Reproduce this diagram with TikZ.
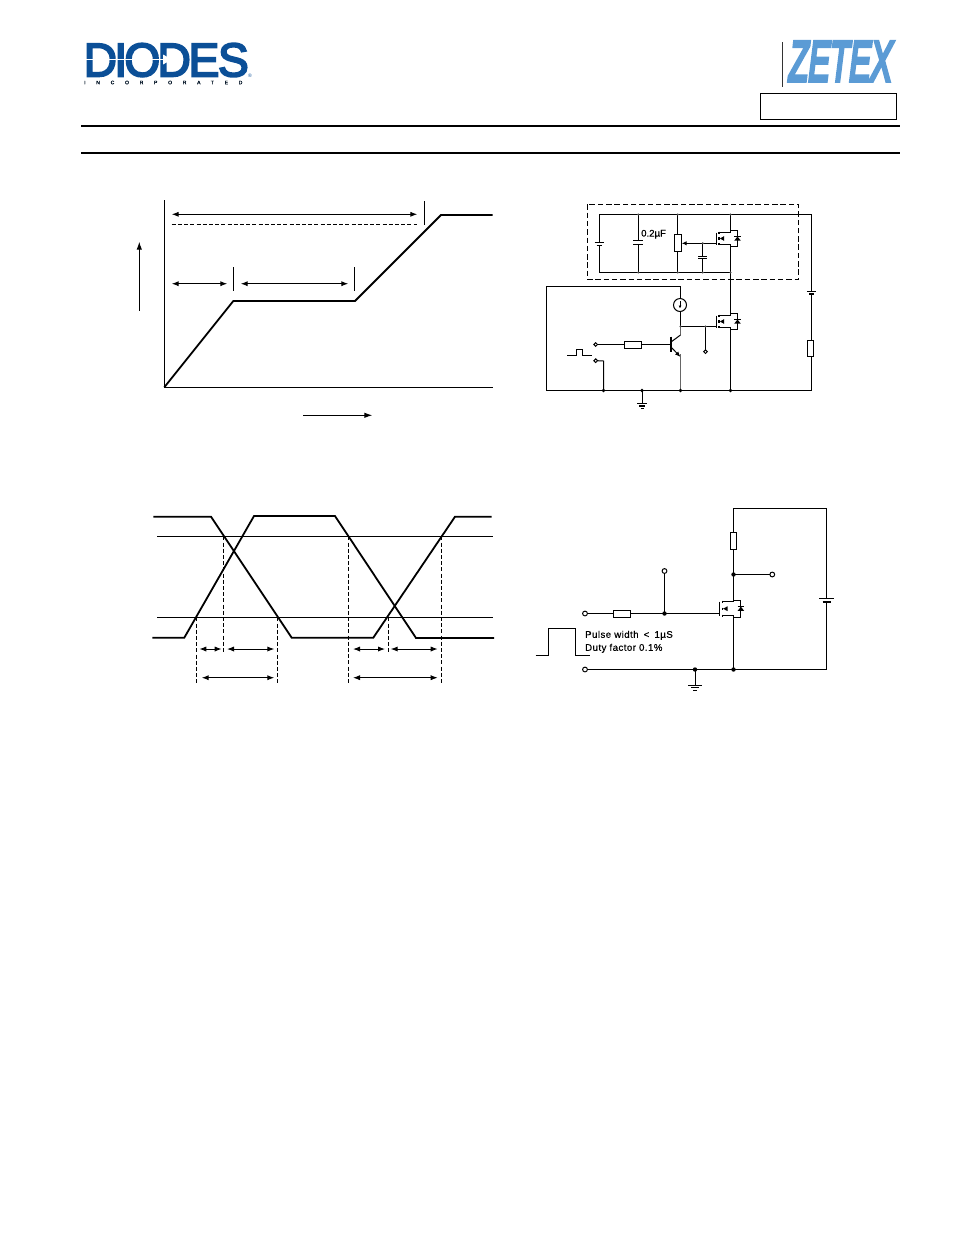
\documentclass[tikz,border=0pt]{standalone}
\usepackage{fontspec}
\setmainfont{Liberation Sans}
\newfontfamily\logofont[FakeBold=4]{Liberation Sans}
\newfontfamily\zetexfont[FakeBold=7,FakeSlant=0.22]{Liberation Sans}
\newfontfamily\incfont[FakeBold=1.5,LetterSpace=215]{Liberation Sans}
\newfontfamily\labelfont[FakeBold=0.5,LetterSpace=5]{Liberation Sans}
\newfontfamily\capfont[FakeBold=0.5]{Liberation Sans}
\usepackage{graphicx}
\usetikzlibrary{arrows.meta}
\definecolor{diodesblue}{HTML}{0B4F97}
\definecolor{zetexblue}{HTML}{5B9BD5}
\tikzset{
  wire/.style={draw=black,line width=1pt},
  thin wire/.style={draw=black,line width=1pt},
  trace/.style={draw=black,line width=1.8pt,line join=miter},
  rule line/.style={draw=black,line width=1.6pt},
  dim/.style={draw=black,line width=1pt,{Latex[length=7pt,width=5.2pt]}-{Latex[length=7pt,width=5.2pt]}},
  oneway/.style={draw=black,line width=1pt,-{Latex[length=8pt,width=5.5pt]}},
  guide/.style={draw=black,line width=0.9pt,dash pattern=on 4pt off 2.2pt},
  frame dash/.style={draw=black,line width=1.1pt,dash pattern=on 5.5pt off 2.8pt},
  res/.style={draw=black,line width=1pt,fill=white},
  term/.style={draw=black,line width=1pt,fill=white},
  junction/.style={fill=black},
}
\newcommand{\mosfet}[6]{%
  \begin{scope}[shift={(#1,#2)}]
    \draw[wire] (-#5,-#3) -- (-#5,#3+0.5);
    \draw[wire,line width=1.6pt] (-#5+3,-#3-1) -- (-#5+3,-#3+1);
    \draw[wire,line width=1.6pt] (-#5+3,#3-1) -- (-#5+3,#3+1);
    \draw[wire] (-#5+3,-#3) -- (0,-#3);
    \draw[wire] (-#5+3,#3) -- (0,#3);
    \draw[wire,line width=1.6pt] (-#5+3,-1.2) -- (-#5+3,1.2);
    \fill (-#5+3.6,0) -- (-#5+8,-2.4) -- (-#5+8,2.4) -- cycle;
    \draw[wire] (0,-#6) -- (#4,-#6) -- (#4,#6) -- (0,#6);
    \fill (#4-3.3,2.2) -- (#4+3.3,2.2) -- (#4,-2) -- cycle;
    \draw[wire,line width=1.4pt] (#4-3.3,-2) -- (#4+3.3,-2);
  \end{scope}}
\begin{document}
\begin{tikzpicture}[x=1pt,y=-1pt]
\useasboundingbox (0,0) rectangle (954,1235);

% --- header ---
\node[inner sep=0,anchor=south west,text=diodesblue] (diodes) at (83.5,77)
  {\resizebox{165pt}{33pt}{\logofont D\kern-0.06em I\kern-0.06em O\kern-0.06em D\kern-0.05em E\kern-0.03em S}};
\fill[white] (84,58.6) rectangle (165,60.2);
\fill[white] (163,54.5) -- (172,59.4) -- (163,64.5) -- cycle;
\node[inner sep=0,anchor=west,text=black!75!diodesblue,font=\incfont\fontsize{5}{5}\selectfont] (inc) at (84,82.5)
  {INCORPORATED};
\node[inner sep=0,text=diodesblue,font=\fontsize{5}{5}\selectfont] (reg) at (250,75.5) {®};
\draw[black!80,line width=1pt] (782,42) -- (782,87);
\node[inner sep=0,anchor=south west,text=zetexblue] (zetex) at (787,81)
  {\resizebox{103pt}{39pt}{\zetexfont ZETEX}};
\draw[line width=1pt] (760.5,93.8) rectangle (896.5,119.3);
\draw[rule line] (81,126) -- (900,126);
\draw[rule line] (81,153) -- (900,153);

% --- gate charge graph ---
\draw[wire] (164.3,200) -- (164.3,387.3) -- (492.7,387.3);
\draw[trace] (164.3,387.3) -- (233.3,301) -- (355,301) -- (441,215) -- (492.7,215);
\draw[dim] (171.7,214.3) -- (417.3,214.3);
\draw[guide] (171.7,224.3) -- (417.3,224.3);
\draw[thin wire] (424.3,201) -- (424.3,224.5);
\draw[dim] (171.7,283.7) -- (227.3,283.7);
\draw[thin wire] (233.3,267) -- (233.3,290.7);
\draw[dim] (240.7,283.7) -- (348.3,283.7);
\draw[thin wire] (354.3,267) -- (354.3,290.7);
\draw[oneway] (139.3,310.7) -- (139.3,241.7);
\draw[oneway] (303.3,415.3) -- (372.3,415.3);

% --- gate charge test circuit ---
\draw[frame dash] (587.3,204.3) rectangle (798.3,279.3);
\draw[wire] (599.3,214.5) -- (811.5,214.5);
\draw[wire] (599.3,272.5) -- (730.5,272.5);
% battery
\draw[wire] (599.3,214.5) -- (599.3,242);
\draw[wire] (594.5,242) -- (604,242);
\draw[wire,line width=1.5pt] (596.5,245.5) -- (602,245.5);
\draw[wire] (599.3,245.5) -- (599.3,272.5);
% capacitor
\draw[wire] (638.3,214.5) -- (638.3,240.7);
\draw[wire,line width=1.5pt] (633.3,240.7) -- (643.3,240.7);
\draw[wire,line width=1.5pt] (633.3,244.3) -- (643.3,244.3);
\draw[wire] (638.3,244.3) -- (638.3,272.5);
\node[inner sep=0,anchor=west,font=\capfont\fontsize{9.6}{10}\selectfont] (cap) at (641,234.2) {0.2\textmu F};
% potentiometer
\draw[wire] (677.7,214.5) -- (677.7,272.5);
\draw[res] (674,234.3) rectangle (681.4,251.7);
\draw[thin wire,-{Latex[length=5pt,width=4.4pt]}] (715.5,243.3) -- (681.7,243.3);
% small cap on gate
\draw[wire] (702.7,243.3) -- (702.7,256);
\draw[wire] (698,256) -- (707.4,256);
\draw[wire] (698,258.3) -- (707.4,258.3);
\draw[wire] (702.7,258.3) -- (702.7,272.5);
% upper mosfet
\draw[wire] (730.5,214.5) -- (730.5,232.7);
\draw[wire] (730.5,244.3) -- (730.5,315.7);
\draw[wire] (730.5,327.3) -- (730.5,390.5);
\mosfet{730.5}{238.5}{5.8}{7}{14.3}{8}
% left block
\draw[wire] (680.5,286.5) -- (546.5,286.5) -- (546.5,390.5) -- (811.5,390.5);
\draw[wire] (680.5,286.5) -- (680.5,298.5);
\draw[wire] (680.5,311.5) -- (680.5,326);
\draw[wire] (680,305) circle (6.5);
\draw[thin wire,-{Latex[length=3pt,width=3pt]}] (680,301) -- (680,308.5);
% lower mosfet
\mosfet{730.5}{321.5}{5.8}{7}{14.3}{8}
\draw[wire] (680.5,326.5) -- (716.2,326.5);
\draw[wire] (705.5,326.5) -- (705.5,350);
\draw[term] (705.5,351.7) circle (1.8);
% transistor
\draw[wire,line width=2pt] (671,336.7) -- (671,351.7);
\draw[wire,black!60] (680.5,326) -- (680.5,335);
\draw[wire] (680.5,335) -- (671,342);
\draw[wire,-{Latex[length=5.5pt,width=4.5pt]}] (671,347) -- (680.5,357);
\draw[wire,black!60,line width=1.3pt] (680.5,354) -- (680.5,390.5);
% base network
\draw[wire] (597,344.5) -- (671,344.5);
\draw[res] (624.3,341.3) rectangle (641.7,348.3);
\draw[term] (595.7,344.5) circle (1.8);
\draw[term] (595.7,360.7) circle (1.8);
\draw[wire] (597.5,360.7) -- (603.5,361) -- (603.5,390.5);
\draw[thin wire] (567.3,355.7) -- (576,355.7) -- (576,349.3) -- (582.3,349.3) -- (582.3,355.7) -- (591.7,355.7);
% right leg
\draw[wire] (811.5,214.5) -- (811.5,291.7);
\draw[wire] (806.8,291.7) -- (816.2,291.7);
\draw[wire,line width=1.5pt] (809,294.2) -- (814,294.2);
\draw[wire] (811.5,294.2) -- (811.5,390.5);
\draw[res] (807.2,340.3) rectangle (813.8,356.7);
% ground
\draw[wire] (642,390.5) -- (642,403.5);
\draw[wire,line width=1.4pt] (637,403.5) -- (647,403.5);
\draw[wire,line width=1.3pt] (639,405.9) -- (645,405.9);
\draw[wire,line width=1.3pt] (640.5,408.7) -- (643.5,408.7);
\foreach \jx in {603.5,642,680.5,730.5}{\fill[junction] (\jx,390.5) circle (1.9);}
\foreach \jx/\jy in {638.3/214.5,677.7/214.5,730.5/214.5,638.3/272.5,677.7/272.5,702.7/272.5,730.5/272.5,702.7/243.3,705.5/326.5,680.5/326.5}{\fill[black!70] (\jx,\jy) circle (1.1);}

% --- switching waveforms ---
\draw[thin wire] (157,536.3) -- (493,536.3);
\draw[thin wire] (157,617.3) -- (493,617.3);
\draw[trace] (153.3,516.7) -- (211,516.7) -- (291.7,637.7) -- (373.3,637.7) -- (455,516.7) -- (491.7,516.7);
\draw[trace] (152.3,637.7) -- (184.3,637.7) -- (254,516) -- (335,516) -- (416,638) -- (494,638);
\draw[guide] (196.3,617.3) -- (196.3,683.3);
\draw[guide] (223.3,536.3) -- (223.3,652.7);
\draw[guide] (277.3,617.3) -- (277.3,683.3);
\draw[guide] (348.3,536.3) -- (348.3,683.3);
\draw[guide] (388.3,617.3) -- (388.3,652.7);
\draw[guide] (441.3,536.3) -- (441.3,683.3);
\draw[dim] (199.3,649) -- (221.7,649);
\draw[dim] (227,649) -- (274.3,649);
\draw[dim] (353,649) -- (385,649);
\draw[dim] (390.7,649) -- (437.7,649);
\draw[dim] (201.7,677.7) -- (274.3,677.7);
\draw[dim] (353,677.7) -- (437.7,677.7);

% --- switching test circuit ---
\draw[wire] (587,669.5) -- (826.5,669.5) -- (826.5,602);
\draw[wire] (826.5,598.7) -- (826.5,508.5) -- (733.5,508.5) -- (733.5,601.7);
\draw[wire] (733.5,615.7) -- (733.5,669.5);
\draw[res] (730.1,532.3) rectangle (736.5,549.7);
\draw[wire] (733.5,574.5) -- (770,574.5);
\draw[term] (772.3,574.5) circle (2.4);
\fill[junction] (733.5,574.5) circle (2.2);
\draw[wire,line width=1.2pt] (819,598.7) -- (834,598.7);
\draw[wire,line width=1.8pt] (822.5,602) -- (830.5,602);
\mosfet{733.5}{608.7}{7}{7.4}{14}{8.7}
\draw[wire] (587.5,613.5) -- (719.5,613.5);
\draw[res] (613.3,610.3) rectangle (630.7,617.3);
\draw[term] (585,613.5) circle (2.4);
\draw[wire] (664.5,613.5) -- (664.5,573.4);
\draw[term] (664.5,571) circle (2.4);
\fill[junction] (664.5,613.5) circle (2.2);
\draw[term] (585,669.5) circle (2.4);
\fill[junction] (695,669.5) circle (2.2);
\fill[junction] (733.5,669.5) circle (2.2);
\draw[wire] (695,669.5) -- (695,685);
\draw[wire] (688,685) -- (702,685);
\draw[wire] (691,687.6) -- (699,687.6);
\draw[wire] (693,690.3) -- (697,690.3);
\draw[wire] (535.7,655.3) -- (548.3,655.3) -- (548.3,628.3) -- (575,628.3) -- (575,655.3) -- (590,655.3);
\node[inner sep=0,anchor=west,font=\labelfont\fontsize{9.6}{10}\selectfont] (pw) at (585,635.3) {Pulse width\hspace{2pt} < \hspace{2pt}1\textmu S};
\node[inner sep=0,anchor=west,font=\labelfont\fontsize{9.6}{10}\selectfont] (df) at (585,648.3) {Duty factor 0.1\%};
\end{tikzpicture}
\end{document}
